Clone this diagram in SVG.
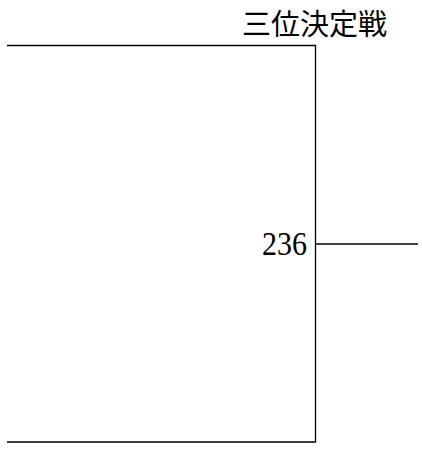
<svg xmlns="http://www.w3.org/2000/svg" width="422" height="451" viewBox="0 0 422 451">
<style>
.ln{stroke:#000;stroke-width:1.3;fill:none}
.t{font-family:"Liberation Serif","Noto Sans CJK JP",serif;font-size:29px;fill:#000}
.n{font-size:33px}
</style>
<rect width="422" height="451" fill="#fff"/>
<g id="connectors">
<path class="ln" d="M7,45.5H315.5V442H7"/>
<path class="ln" d="M315.5,244H418"/>
</g>
<g id="title"><text class="t" x="242" y="35">三位決定戦</text></g>
<g id="score"><text class="t n" x="262" y="255" textLength="45" lengthAdjust="spacingAndGlyphs">236</text></g>
</svg>
